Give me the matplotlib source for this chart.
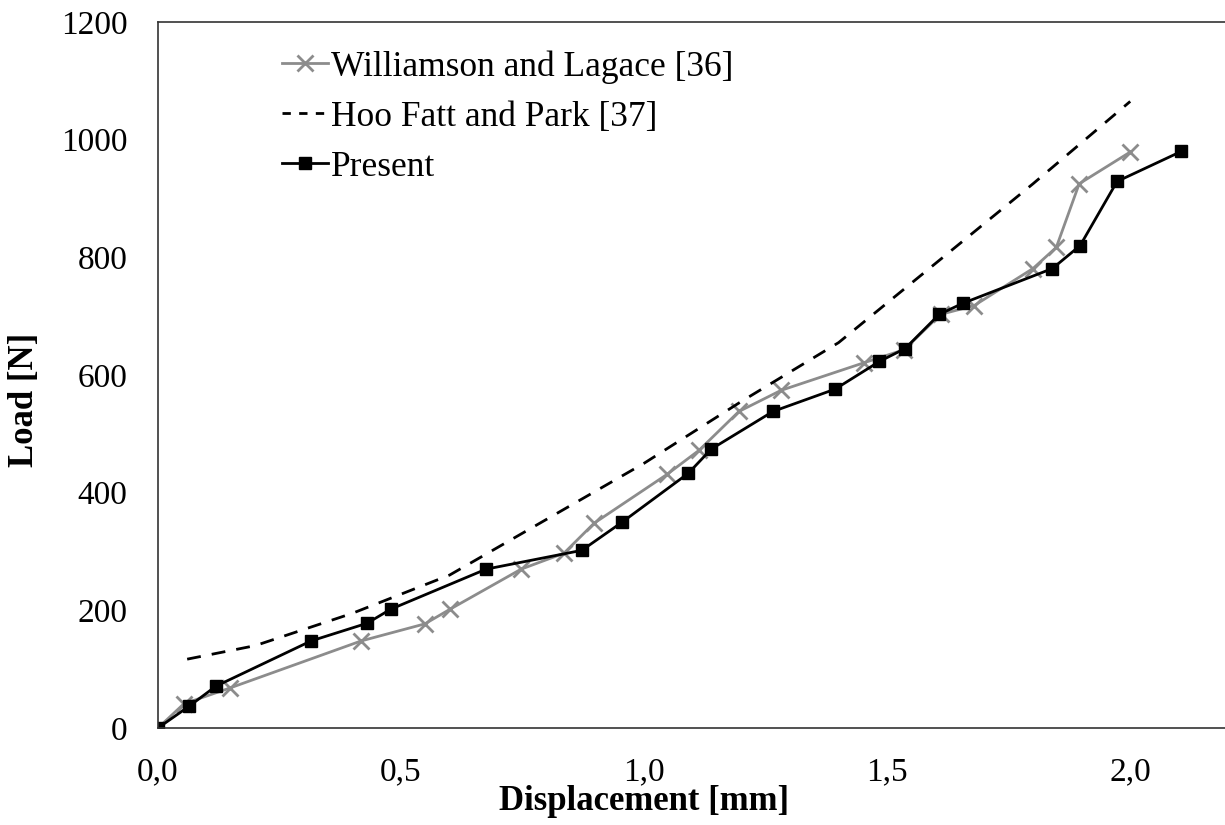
import numpy as np
import matplotlib.pyplot as plt
from matplotlib.ticker import FuncFormatter

# Williamson and Lagace [36]
will_x = [0.0, 0.053, 0.148, 0.418, 0.549, 0.601, 0.747, 0.835, 0.897, 1.047, 1.113,
          1.195, 1.282, 1.453, 1.535, 1.61, 1.679, 1.80, 1.848, 1.895, 2.0]
will_y = [0, 41, 68, 148, 177, 202, 270, 297, 348, 431, 472,
          538, 574, 621, 643, 703, 718, 781, 817, 925, 979]

# Hoo Fatt and Park [37]
hoo_x = [0.06, 0.2, 0.4, 0.6, 0.8, 1.0, 1.2, 1.4, 1.6, 1.8, 2.0]
hoo_y = [117, 140, 195, 260, 355, 450, 555, 655, 790, 925, 1065]

# Present
pres_x = [0.0, 0.064, 0.119, 0.315, 0.43, 0.479, 0.675, 0.872, 0.955, 1.091, 1.138,
          1.265, 1.393, 1.484, 1.537, 1.607, 1.656, 1.84, 1.897, 1.973, 2.105]
pres_y = [0, 37, 71, 148, 178, 202, 270, 302, 350, 433, 474,
          538, 576, 623, 645, 703, 722, 781, 820, 929, 980]

plt.rcParams['font.family'] = ['Liberation Serif', 'DejaVu Serif']

fig = plt.figure(figsize=(12.25, 8.25), dpi=100)
ax = fig.add_axes([158 / 1225, 1 - 728 / 825, 1 - 158 / 1225, (728 - 22) / 825])

ax.plot(will_x, will_y, color='#8c8c8c', lw=2, marker='x', ms=11, mew=2,
        label='Williamson and Lagace [36]')
ax.plot(hoo_x, hoo_y, color='black', lw=2, ls=(0, (5, 4)),
        label='Hoo Fatt and Park [37]')
ax.plot(pres_x, pres_y, color='black', lw=2, marker='s', ms=9,
        label='Present')

ax.set_xlim(0, 2.195)
ax.set_ylim(0, 1200)
ax.set_xticks([0, 0.5, 1.0, 1.5, 2.0])
ax.set_yticks(range(0, 1201, 200))
ax.xaxis.set_major_formatter(FuncFormatter(lambda v, p: f'{v:.1f}'.replace('.', ',')))
ax.tick_params(length=0, labelsize=24, pad=21)
ax.tick_params(axis='y', pad=22)

ax.spines['right'].set_visible(False)
for s in ax.spines.values():
    s.set_color('#333333')
    s.set_linewidth(1.2)

ax.set_xlabel('Displacement [mm]', fontsize=25, fontweight='bold', labelpad=0)
ax.xaxis.set_label_coords(1.0 / 2.195, -0.081)
ax.set_ylabel('Load [N]', fontsize=25, fontweight='bold')
ax.yaxis.set_label_coords(-0.11, 0.465)

leg = ax.legend(loc='upper left', bbox_to_anchor=(0.116, 0.96), frameon=False, fontsize=25.5,
                handlelength=1.3, handletextpad=0.1, labelspacing=0.48,
                borderaxespad=0, borderpad=0)
leg.get_lines()[1].set_linestyle((0, (3, 3)))

fig.savefig('out.png', dpi=100)
